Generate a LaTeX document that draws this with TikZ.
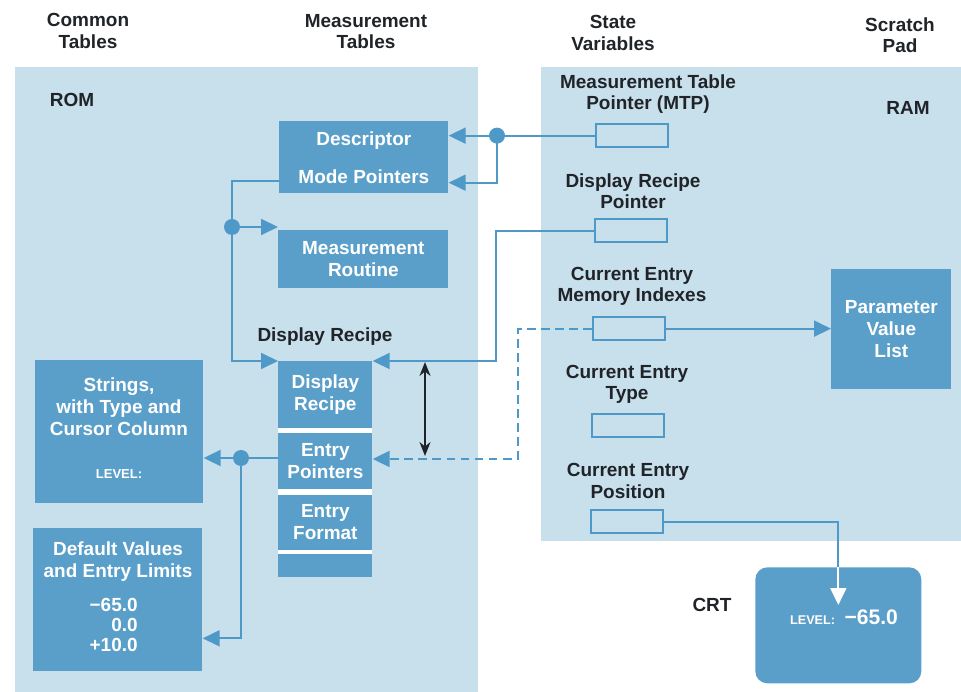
\documentclass[tikz,border=0pt]{standalone}
\usepackage{fontspec}
\setmainfont{Liberation Sans}
\usepackage{xcolor}
\usetikzlibrary{arrows.meta,positioning}
\definecolor{panelblue}{RGB}{200,223,236}
\definecolor{boxblue}{RGB}{90,159,201}
\definecolor{wireblue}{RGB}{78,153,199}
\definecolor{inkgray}{RGB}{32,36,40}

\begin{document}
\begin{tikzpicture}[x=0.02cm, y=-0.02cm,
    txt/.style={font=\fontsize{10.8}{12}\selectfont\bfseries, text=inkgray, align=center, inner sep=0pt},
    blk/.style={fill=boxblue, text=white, font=\fontsize{10.8}{12.5}\selectfont\bfseries, align=center, inner sep=0pt, anchor=north west},
    wtxt/.style={font=\fontsize{10.8}{12.5}\selectfont\bfseries, text=white, align=center, inner sep=0pt},
    tinytxt/.style={font=\fontsize{7.4}{8}\selectfont\bfseries, text=white, inner sep=0pt},
    cell/.style={draw=wireblue, line width=1.3pt, minimum width=1.44cm, minimum height=0.46cm, inner sep=0pt, anchor=north west},
    wire/.style={draw=wireblue, line width=1.1pt},
    arr/.style={wire, -{Triangle[length=0.34cm, width=0.32cm]}},
    dot/.style={circle, fill=wireblue, minimum size=0.32cm, inner sep=0pt}]

    \useasboundingbox (0,0) rectangle (961,692);
    % ROM and RAM areas
    \fill[panelblue] (15,67) rectangle (478,692);
    \fill[panelblue] (541,67) rectangle (961,541);

    % column heads
    \node[txt] (hcommon) at (88,31) {Common\\Tables};
    \node[txt] (hmeas) at (366,32) {Measurement\\Tables};
    \node[txt] (hstate) at (613,33) {State\\Variables};
    \node[txt] (hpad) at (900,35) {Scratch\\Pad};
    \node[txt] (rom) at (72,100) {ROM};
    \node[txt] (ram) at (908,108) {RAM};

    % measurement tables
    \node[blk, minimum width=3.38cm, minimum height=1.44cm] (desc) at (279,121) {Descriptor\\[9pt]Mode Pointers};
    \node[blk, minimum width=3.4cm, minimum height=1.16cm] (mroutine) at (278,230) {Measurement\\Routine};
    \node[txt] (drlabel) at (325,337) {Display Recipe};
    \fill[white] (278,361) rectangle (372,575);
    \node[blk, minimum width=1.88cm, minimum height=1.34cm] (drecipe) at (278,361) {Display\\Recipe};
    \node[blk, minimum width=1.88cm, minimum height=1.12cm, below=0.08cm of drecipe] (entptr) {Entry\\Pointers};
    \node[blk, minimum width=1.88cm, minimum height=1.1cm, below=0.1cm of entptr] (entfmt) {Entry\\Format};
    \node[blk, minimum width=1.88cm, minimum height=0.46cm, below=0.08cm of entfmt] (entspare) {};

    % common tables
    \node[blk, minimum width=3.36cm, minimum height=2.86cm] (strtab) at (35,360) {};
    \node[wtxt] (strtxt) at (119,407) {Strings,\\with Type and\\Cursor Column};
    \node[tinytxt] (strlevel) at (119,474) {LEVEL:};
    \node[blk, minimum width=3.38cm, minimum height=2.86cm] (deftab) at (33,528) {};
    \node[wtxt] (deftxt) at (118,562) {Default Values\\and Entry Limits};
    \node[wtxt, font=\fontsize{10.8}{11.6}\selectfont\bfseries, align=right, anchor=east] (defnums) at (138,625) {−65.0\\0.0\\+10.0};

    % state variables
    \node[txt] (mtplabel) at (648,94) {Measurement Table\\Pointer (MTP)};
    \node[cell] (mtp) at (595,123) {};
    \node[txt] (drplabel) at (633,191) {Display Recipe\\Pointer};
    \node[cell] (drp) at (594,218) {};
    \node[txt] (cemlabel) at (632,286) {Current Entry\\Memory Indexes};
    \node[cell] (cem) at (592,316) {};
    \node[txt] (cetlabel) at (627,384) {Current Entry\\Type};
    \node[cell] (cet) at (591,413) {};
    \node[txt] (ceplabel) at (628,481) {Current Entry\\Position};
    \node[cell] (cep) at (590,509) {};

    % scratch pad and screen
    \node[blk, minimum width=2.4cm, minimum height=2.4cm] (pvl) at (831,269) {Parameter\\Value\\List};
    \node[blk, rounded corners=0.24cm, minimum width=3.32cm, minimum height=2.32cm] (crt) at (755,567) {};
    \node[txt] (crtlabel) at (712,605) {CRT};
    \node[wtxt, anchor=base] (crtread) at (844,624) {{\fontsize{7.2}{8}\selectfont LEVEL:}\enspace{\fontsize{12}{14}\selectfont −65.0}};

    % branch points
    \path (mtp.west) ++(-98,0) node[dot] (mtpdot) {};
    \node[dot] (modedot) at (232,227) {};
    \node[dot] (epdot) at (241,458) {};
    \coordinate (drpturn) at (496,361);
    \coordinate (cemturn) at (518,459);
    \coordinate (spantop) at (425,362);
    \coordinate (spanbot) at (425,456);

    % connectors
    \draw[wire] (mtp.west) -- (mtpdot.center);
    \draw[arr] (mtpdot.center) -- (desc.east |- mtpdot);
    \draw[arr] (mtpdot.center) |- ([yshift=0.22cm]desc.south east);
    \draw[arr] ([yshift=0.26cm]desc.south west) -| (modedot.center) |- (drecipe.north west);
    \draw[arr] (modedot.center) -- (mroutine.west |- modedot);
    \draw[arr] (drp.west) -| (drpturn) -- (drecipe.north east);
    \draw[arr, dash pattern=on 5pt off 3pt] (cem.west) -| (cemturn) -- (entptr.east |- cemturn);
    \draw[{Stealth[length=0.28cm, width=0.22cm]}-{Stealth[length=0.28cm, width=0.22cm]}, line width=1pt, inkgray] (spantop) -- (spanbot);
    \draw[wire] (entptr.west |- epdot) -- (epdot.center);
    \draw[arr] (epdot.center) -- (strtab.east |- epdot);
    \draw[arr] (epdot.center) |- ([yshift=-0.77cm]deftab.east);
    \draw[arr] (cem.east) -- (pvl.west |- cem.east);
    \draw[wire] (cep.east) -| (crt.north);
    \draw[arr, draw=white] (crt.north) -- ++(0,38);
\end{tikzpicture}
\end{document}
